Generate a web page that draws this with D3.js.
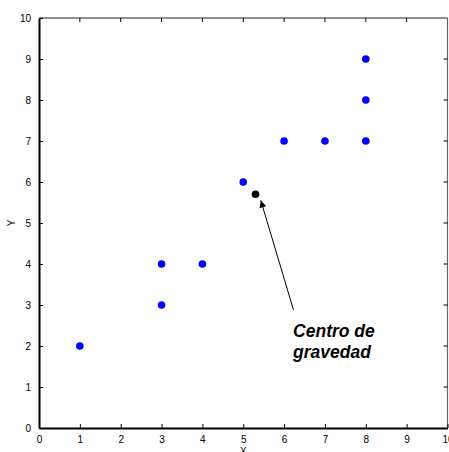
<!DOCTYPE html>
<html>
<head>
<meta charset="utf-8">
<script src="https://cdn.jsdelivr.net/npm/d3@7"></script>
<style>
  body { margin: 0; background: #fff; }
  svg { display: block; font-family: "Liberation Sans", Arial, sans-serif; }
</style>
</head>
<body>
<div id="chart"></div>
<script>
// data points
var xs = [1, 3, 3, 4, 5, 6, 7, 8, 8, 8]
var ys = [2, 3, 4, 4, 6, 7, 7, 7, 8, 9]
var ticks = [0, 1, 2, 3, 4, 5, 6, 7, 8, 9, 10]
// annotation (arrow tail/tip and text anchor, in data units)
var arrowFrom = [6.23, 2.88]
var arrowTo = [5.43, 5.55]
var labelLines = ["Centro de", "gravedad"]
var labelAt = [6.22, 2.22]

var width = 449, height = 452
var margin = {top: 18, right: 2, bottom: 24, left: 39}

var cx = d3.mean(xs), cy = d3.mean(ys)

var xScale = d3.scaleLinear([0, 10], [margin.left, 447.5])
var yScale = d3.scaleLinear([0, 10], [428, margin.top])

var svg = d3.select("#chart").append("svg")
    .attr("width", width)
    .attr("height", height)

svg.append("defs").append("marker")
    .attr("id", "head")
    .attr("viewBox", "0 0 10 10")
    .attr("refX", 10).attr("refY", 5)
    .attr("markerWidth", 9).attr("markerHeight", 7)
    .attr("markerUnits", "userSpaceOnUse")
    .attr("orient", "auto")
  .append("path")
    .attr("d", "M0,0L10,5L0,10z")
    .attr("fill", "#000")

// box: top and right thin
svg.append("line")
    .attr("x1", xScale(0)).attr("x2", xScale(10))
    .attr("y1", yScale(10)).attr("y2", yScale(10))
    .attr("stroke", "#222").attr("stroke-width", 1.2)
svg.append("line")
    .attr("x1", xScale(10)).attr("x2", xScale(10))
    .attr("y1", yScale(0)).attr("y2", yScale(10))
    .attr("stroke", "#666").attr("stroke-width", 1.2)

// inner ticks on all four sides
svg.append("g").selectAll("line").data(ticks.slice(1, -1)).join("line")
    .attr("x1", d => xScale(d)).attr("x2", d => xScale(d))
    .attr("y1", yScale(10)).attr("y2", yScale(10) + 4)
    .attr("stroke", "#000")
svg.append("g").selectAll("line").data(ticks.slice(1, -1)).join("line")
    .attr("x1", xScale(10)).attr("x2", xScale(10) - 4)
    .attr("y1", d => yScale(d)).attr("y2", d => yScale(d))
    .attr("stroke", "#000")

var xAxis = d3.axisBottom(xScale).tickValues(ticks).tickSizeInner(-4).tickSizeOuter(0).tickPadding(8)
var yAxis = d3.axisLeft(yScale).tickValues(ticks).tickSizeInner(-4).tickSizeOuter(0).tickPadding(8)

var gx = svg.append("g").attr("transform", "translate(0," + yScale(0) + ")").call(xAxis)
var gy = svg.append("g").attr("transform", "translate(" + xScale(0) + ",0)").call(yAxis)

for (var g of [gx, gy]) {
    g.select(".domain").attr("stroke", "#000").attr("stroke-width", 2)
    g.selectAll("text").attr("font-size", 10).attr("font-family", "Liberation Sans, Arial, sans-serif").attr("fill", "#000")
}

svg.append("text")
    .attr("x", (xScale(0) + xScale(10)) / 2).attr("y", 455)
    .attr("text-anchor", "middle")
    .attr("font-size", 10)
    .text("X")
svg.append("text")
    .attr("transform", "translate(15," + yScale(5) + ") rotate(-90)")
    .attr("text-anchor", "middle")
    .attr("font-size", 10)
    .text("Y")

// points
svg.append("g").selectAll("circle").data(d3.range(xs.length)).join("circle")
    .attr("cx", i => xScale(xs[i]))
    .attr("cy", i => yScale(ys[i]))
    .attr("r", 3.8)
    .attr("fill", "#0000ff")

svg.append("circle")
    .attr("cx", xScale(cx)).attr("cy", yScale(cy))
    .attr("r", 3.8).attr("fill", "#000")

// annotation
svg.append("line")
    .attr("x1", xScale(arrowFrom[0])).attr("y1", yScale(arrowFrom[1]))
    .attr("x2", xScale(arrowTo[0])).attr("y2", yScale(arrowTo[1]))
    .attr("stroke", "#000").attr("stroke-width", 1)
    .attr("marker-end", "url(#head)")

svg.append("g").selectAll("text").data(labelLines).join("text")
    .attr("x", xScale(labelAt[0]))
    .attr("y", (d, i) => yScale(labelAt[1]) + i * 21)
    .attr("font-size", 17.5)
    .attr("font-weight", "bold")
    .attr("font-style", "italic")
    .text(d => d)
</script>
</body>
</html>
